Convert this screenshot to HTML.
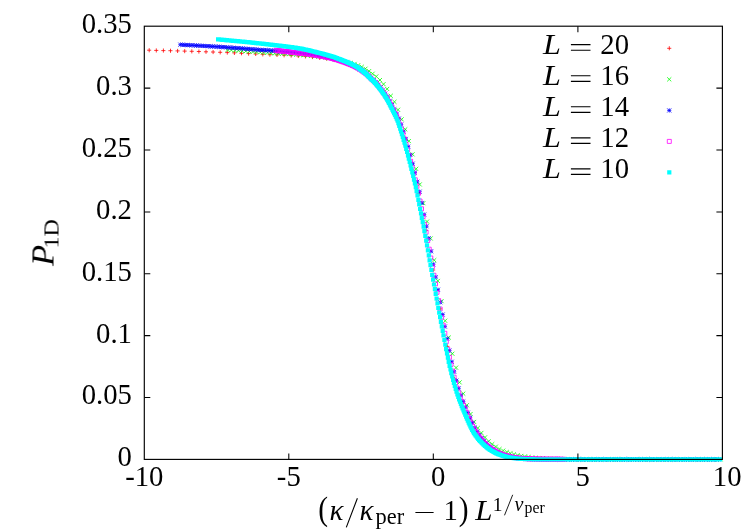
<!DOCTYPE html>
<html><head><meta charset="utf-8"><title>P1D scaling collapse</title>
<style>
html,body{margin:0;padding:0;background:#fff}
body{width:747px;height:531px;overflow:hidden}
svg{display:block}
text{font-family:"Liberation Serif",serif;font-size:28.7px;fill:#000}
.i{font-style:italic}
.m{fill:none;stroke-width:.8}
</style></head><body>
<svg width="747" height="531" viewBox="0 0 747 531">
<rect width="747" height="531" fill="#fff"/>
<path class="m" stroke="#f00" d="M147.1 50.2h4.1M149.2 48.2v4.1M154.2 50.4h4.1M156.3 48.4v4.1M161.3 50.6h4.1M163.4 48.5v4.1M168.4 50.7h4.1M170.5 48.7v4.1M175.5 50.9h4.1M177.6 48.9v4.1M182.6 51.1h4.1M184.7 49.1v4.1M189.7 51.3h4.1M191.8 49.3v4.1M196.8 51.5h4.1M198.9 49.5v4.1M203.9 51.8h4.1M206 49.7v4.1M211 52h4.1M213.1 50v4.1M218.1 52.3h4.1M220.2 50.3v4.1M225.2 52.6h4.1M227.3 50.5v4.1M232.3 52.9h4.1M234.4 50.9v4.1M239.4 53.3h4.1M241.5 51.2v4.1M246.5 53.6h4.1M248.6 51.6v4.1M253.6 54h4.1M255.7 51.9v4.1M260.7 54.3h4.1M262.8 52.3v4.1M267.8 54.7h4.1M269.9 52.6v4.1M274.9 54.9h4.1M277 52.9v4.1M282.1 55.2h4.1M284.1 53.2v4.1M289.1 55.6h4.1M291.2 53.5v4.1M296.2 56h4.1M298.3 53.9v4.1M303.3 56.4h4.1M305.4 54.4v4.1M310.4 57h4.1M312.5 55v4.1M317.5 57.7h4.1M319.6 55.7v4.1M324.6 58.6h4.1M326.7 56.6v4.1M331.7 59.8h4.1M333.8 57.7v4.1M338.8 61.2h4.1M340.9 59.1v4.1M345.9 63.2h4.1M348 61.1v4.1M353 66h4.1M355.1 64v4.1M360.1 70.2h4.1M362.2 68.2v4.1M367.2 76.1h4.1M369.3 74.1v4.1M374.3 83.1h4.1M376.4 81.1v4.1M381.4 91.9h4.1M383.5 89.9v4.1M388.5 103.3h4.1M390.6 101.2v4.1M395.6 117.4h4.1M397.7 115.3v4.1M402.7 138.1h4.1M404.8 136v4.1M409.8 163.7h4.1M411.9 161.7v4.1M416.9 193.9h4.1M419 191.9v4.1M424 230.4h4.1M426.1 228.3v4.1M431.1 270h4.1M433.2 268v4.1M438.2 308.9h4.1M440.3 306.8v4.1M445.3 346.4h4.1M447.4 344.4v4.1M452.4 378.7h4.1M454.5 376.7v4.1M459.5 401.6h4.1M461.6 399.5v4.1M466.6 419.1h4.1M468.7 417v4.1M473.7 433.7h4.1M475.8 431.6v4.1M480.8 442.9h4.1M482.9 440.8v4.1M487.9 449.3h4.1M490 447.2v4.1M495 453.6h4.1M497.1 451.6v4.1M667.2 48.3h4.1M669.3 46.2v4.1"/>
<path class="m" stroke="#0f0" d="M225.6 47.9l4.1 4.1M225.6 52l4.1 -4.1M229.3 48.1l4.1 4.1M229.3 52.2l4.1 -4.1M232.9 48.4l4.1 4.1M232.9 52.5l4.1 -4.1M236.5 48.6l4.1 4.1M236.5 52.7l4.1 -4.1M240.1 48.9l4.1 4.1M240.1 53l4.1 -4.1M243.8 49.1l4.1 4.1M243.8 53.2l4.1 -4.1M247.4 49.4l4.1 4.1M247.4 53.5l4.1 -4.1M251 49.6l4.1 4.1M251 53.7l4.1 -4.1M254.6 49.9l4.1 4.1M254.6 54l4.1 -4.1M258.3 50.2l4.1 4.1M258.3 54.3l4.1 -4.1M261.9 50.5l4.1 4.1M261.9 54.6l4.1 -4.1M265.5 50.7l4.1 4.1M265.5 54.8l4.1 -4.1M269.1 51l4.1 4.1M269.1 55.1l4.1 -4.1M272.8 51.3l4.1 4.1M272.8 55.4l4.1 -4.1M276.4 51.5l4.1 4.1M276.4 55.6l4.1 -4.1M280 51.7l4.1 4.1M280 55.8l4.1 -4.1M283.6 51.9l4.1 4.1M283.6 56l4.1 -4.1M287.3 52.1l4.1 4.1M287.3 56.2l4.1 -4.1M290.9 52.3l4.1 4.1M290.9 56.4l4.1 -4.1M294.5 52.6l4.1 4.1M294.5 56.7l4.1 -4.1M298.1 52.9l4.1 4.1M298.1 57l4.1 -4.1M301.8 53.2l4.1 4.1M301.8 57.3l4.1 -4.1M305.4 53.5l4.1 4.1M305.4 57.6l4.1 -4.1M309 53.8l4.1 4.1M309 57.9l4.1 -4.1M312.6 54.2l4.1 4.1M312.6 58.3l4.1 -4.1M316.2 54.6l4.1 4.1M316.2 58.7l4.1 -4.1M319.9 55l4.1 4.1M319.9 59.1l4.1 -4.1M323.5 55.6l4.1 4.1M323.5 59.7l4.1 -4.1M327.1 56.2l4.1 4.1M327.1 60.3l4.1 -4.1M330.7 56.9l4.1 4.1M330.7 61l4.1 -4.1M334.4 57.6l4.1 4.1M334.4 61.7l4.1 -4.1M338 58.4l4.1 4.1M338 62.5l4.1 -4.1M341.6 59.1l4.1 4.1M341.6 63.2l4.1 -4.1M345.2 59.9l4.1 4.1M345.2 64l4.1 -4.1M348.9 60.8l4.1 4.1M348.9 64.9l4.1 -4.1M352.5 61.9l4.1 4.1M352.5 66l4.1 -4.1M356.1 63.2l4.1 4.1M356.1 67.3l4.1 -4.1M359.7 64.8l4.1 4.1M359.7 68.9l4.1 -4.1M363.4 66.7l4.1 4.1M363.4 70.8l4.1 -4.1M367 69.1l4.1 4.1M367 73.2l4.1 -4.1M370.6 71.7l4.1 4.1M370.6 75.8l4.1 -4.1M374.2 74.4l4.1 4.1M374.2 78.5l4.1 -4.1M377.9 78l4.1 4.1M377.9 82.1l4.1 -4.1M381.5 82.1l4.1 4.1M381.5 86.2l4.1 -4.1M385.1 86.9l4.1 4.1M385.1 91l4.1 -4.1M388.7 93.8l4.1 4.1M388.7 97.9l4.1 -4.1M392.4 99.8l4.1 4.1M392.4 103.9l4.1 -4.1M396 107.7l4.1 4.1M396 111.8l4.1 -4.1M399.6 117.3l4.1 4.1M399.6 121.4l4.1 -4.1M403.2 127.3l4.1 4.1M403.2 131.4l4.1 -4.1M406.8 139l4.1 4.1M406.8 143.1l4.1 -4.1M410.5 152.3l4.1 4.1M410.5 156.4l4.1 -4.1M414.1 166.8l4.1 4.1M414.1 170.9l4.1 -4.1M417.7 182.4l4.1 4.1M417.7 186.5l4.1 -4.1M421.3 201.1l4.1 4.1M421.3 205.2l4.1 -4.1M425 219.5l4.1 4.1M425 223.6l4.1 -4.1M428.6 236.4l4.1 4.1M428.6 240.5l4.1 -4.1M432.2 258.1l4.1 4.1M432.2 262.2l4.1 -4.1M435.8 278.9l4.1 4.1M435.8 283l4.1 -4.1M439.5 299.1l4.1 4.1M439.5 303.2l4.1 -4.1M443.1 318.7l4.1 4.1M443.1 322.8l4.1 -4.1M446.7 335.5l4.1 4.1M446.7 339.6l4.1 -4.1M450.3 351.7l4.1 4.1M450.3 355.8l4.1 -4.1M454 365.6l4.1 4.1M454 369.7l4.1 -4.1M457.6 380.3l4.1 4.1M457.6 384.4l4.1 -4.1M461.2 391.6l4.1 4.1M461.2 395.7l4.1 -4.1M464.8 403.2l4.1 4.1M464.8 407.3l4.1 -4.1M468.5 412l4.1 4.1M468.5 416.1l4.1 -4.1M472.1 419.9l4.1 4.1M472.1 424l4.1 -4.1M475.7 426l4.1 4.1M475.7 430.1l4.1 -4.1M479.3 430.9l4.1 4.1M479.3 435l4.1 -4.1M483 435.3l4.1 4.1M483 439.4l4.1 -4.1M486.6 439.2l4.1 4.1M486.6 443.3l4.1 -4.1M490.2 442.1l4.1 4.1M490.2 446.2l4.1 -4.1M493.8 444.6l4.1 4.1M493.8 448.7l4.1 -4.1M497.4 447l4.1 4.1M497.4 451.1l4.1 -4.1M501.1 448.6l4.1 4.1M501.1 452.7l4.1 -4.1M504.7 450l4.1 4.1M504.7 454.1l4.1 -4.1M508.3 451.2l4.1 4.1M508.3 455.3l4.1 -4.1M511.9 452.3l4.1 4.1M511.9 456.4l4.1 -4.1M515.6 453.2l4.1 4.1M515.6 457.3l4.1 -4.1M519.2 453.9l4.1 4.1M519.2 458l4.1 -4.1M522.8 454.5l4.1 4.1M522.8 458.6l4.1 -4.1M526.4 455l4.1 4.1M526.4 459.1l4.1 -4.1M530.1 455.5l4.1 4.1M530.1 459.6l4.1 -4.1M533.7 455.8l4.1 4.1M533.7 459.9l4.1 -4.1M537.3 456.1l4.1 4.1M537.3 460.2l4.1 -4.1M540.9 456.3l4.1 4.1M540.9 460.4l4.1 -4.1M544.6 456.5l4.1 4.1M544.6 460.6l4.1 -4.1M548.2 456.7l4.1 4.1M548.2 460.8l4.1 -4.1M551.8 456.9l4.1 4.1M551.8 461l4.1 -4.1M555.4 457l4.1 4.1M555.4 461.1l4.1 -4.1M559.1 457.1l4.1 4.1M559.1 461.2l4.1 -4.1M562.7 457.1l4.1 4.1M562.7 461.2l4.1 -4.1M566.3 457.2l4.1 4.1M566.3 461.3l4.1 -4.1M569.9 457.2l4.1 4.1M569.9 461.3l4.1 -4.1M573.6 457.3l4.1 4.1M573.6 461.4l4.1 -4.1M577.2 457.3l4.1 4.1M577.2 461.4l4.1 -4.1M580.8 457.3l4.1 4.1M580.8 461.4l4.1 -4.1M584.4 457.3l4.1 4.1M584.4 461.4l4.1 -4.1M588.1 457.3l4.1 4.1M588.1 461.4l4.1 -4.1M591.7 457.3l4.1 4.1M591.7 461.4l4.1 -4.1M595.3 457.3l4.1 4.1M595.3 461.4l4.1 -4.1M598.9 457.3l4.1 4.1M598.9 461.4l4.1 -4.1M602.5 457.3l4.1 4.1M602.5 461.4l4.1 -4.1M606.2 457.3l4.1 4.1M606.2 461.4l4.1 -4.1M609.8 457.3l4.1 4.1M609.8 461.4l4.1 -4.1M613.4 457.3l4.1 4.1M613.4 461.4l4.1 -4.1M617 457.3l4.1 4.1M617 461.4l4.1 -4.1M620.7 457.3l4.1 4.1M620.7 461.4l4.1 -4.1M624.3 457.3l4.1 4.1M624.3 461.4l4.1 -4.1M627.9 457.3l4.1 4.1M627.9 461.4l4.1 -4.1M631.5 457.3l4.1 4.1M631.5 461.4l4.1 -4.1M635.2 457.3l4.1 4.1M635.2 461.4l4.1 -4.1M638.8 457.3l4.1 4.1M638.8 461.4l4.1 -4.1M642.4 457.3l4.1 4.1M642.4 461.4l4.1 -4.1M646 457.3l4.1 4.1M646 461.4l4.1 -4.1M649.7 457.3l4.1 4.1M649.7 461.4l4.1 -4.1M653.3 457.3l4.1 4.1M653.3 461.4l4.1 -4.1M656.9 457.3l4.1 4.1M656.9 461.4l4.1 -4.1M660.5 457.3l4.1 4.1M660.5 461.4l4.1 -4.1M664.2 457.3l4.1 4.1M664.2 461.4l4.1 -4.1M667.8 457.3l4.1 4.1M667.8 461.4l4.1 -4.1M671.4 457.3l4.1 4.1M671.4 461.4l4.1 -4.1M675 457.3l4.1 4.1M675 461.4l4.1 -4.1M678.7 457.3l4.1 4.1M678.7 461.4l4.1 -4.1M682.3 457.3l4.1 4.1M682.3 461.4l4.1 -4.1M685.9 457.3l4.1 4.1M685.9 461.4l4.1 -4.1M689.5 457.3l4.1 4.1M689.5 461.4l4.1 -4.1M693.1 457.3l4.1 4.1M693.1 461.4l4.1 -4.1M696.8 457.3l4.1 4.1M696.8 461.4l4.1 -4.1M700.4 457.3l4.1 4.1M700.4 461.4l4.1 -4.1M704 457.3l4.1 4.1M704 461.4l4.1 -4.1M707.6 457.3l4.1 4.1M707.6 461.4l4.1 -4.1M711.3 457.3l4.1 4.1M711.3 461.4l4.1 -4.1M714.9 457.3l4.1 4.1M714.9 461.4l4.1 -4.1M718.5 457.3l4.1 4.1M718.5 461.4l4.1 -4.1M667.2 77.3l4.1 4.1M667.2 81.4l4.1 -4.1"/>
<path class="m" stroke="#00f" d="M178.3 44.7h4.1M180.4 42.6v4.1M178.3 42.6l4.1 4.1M178.3 46.7l4.1 -4.1M180.7 44.8h4.1M182.7 42.8v4.1M180.7 42.8l4.1 4.1M180.7 46.9l4.1 -4.1M182.9 44.9h4.1M185 42.9v4.1M182.9 42.9l4.1 4.1M182.9 47l4.1 -4.1M185.2 45h4.1M187.3 43v4.1M185.2 43l4.1 4.1M185.2 47.1l4.1 -4.1M187.5 45.2h4.1M189.6 43.1v4.1M187.5 43.1l4.1 4.1M187.5 47.2l4.1 -4.1M189.8 45.3h4.1M191.9 43.2v4.1M189.8 43.2l4.1 4.1M189.8 47.3l4.1 -4.1M192.2 45.4h4.1M194.2 43.4v4.1M192.2 43.4l4.1 4.1M192.2 47.5l4.1 -4.1M194.4 45.5h4.1M196.5 43.5v4.1M194.4 43.5l4.1 4.1M194.4 47.6l4.1 -4.1M196.8 45.7h4.1M198.8 43.6v4.1M196.8 43.6l4.1 4.1M196.8 47.7l4.1 -4.1M199 45.8h4.1M201.1 43.7v4.1M199 43.7l4.1 4.1M199 47.8l4.1 -4.1M201.3 45.9h4.1M203.4 43.9v4.1M201.3 43.9l4.1 4.1M201.3 48l4.1 -4.1M203.6 46h4.1M205.7 44v4.1M203.6 44l4.1 4.1M203.6 48.1l4.1 -4.1M205.9 46.2h4.1M208 44.1v4.1M205.9 44.1l4.1 4.1M205.9 48.2l4.1 -4.1M208.2 46.3h4.1M210.3 44.3v4.1M208.2 44.3l4.1 4.1M208.2 48.4l4.1 -4.1M210.5 46.5h4.1M212.6 44.4v4.1M210.5 44.4l4.1 4.1M210.5 48.5l4.1 -4.1M212.8 46.6h4.1M214.9 44.5v4.1M212.8 44.5l4.1 4.1M212.8 48.6l4.1 -4.1M215.1 46.7h4.1M217.2 44.7v4.1M215.1 44.7l4.1 4.1M215.1 48.8l4.1 -4.1M217.4 46.9h4.1M219.5 44.8v4.1M217.4 44.8l4.1 4.1M217.4 48.9l4.1 -4.1M219.8 47h4.1M221.8 45v4.1M219.8 45l4.1 4.1M219.8 49.1l4.1 -4.1M222 47.2h4.1M224.1 45.1v4.1M222 45.1l4.1 4.1M222 49.2l4.1 -4.1M224.3 47.3h4.1M226.4 45.3v4.1M224.3 45.3l4.1 4.1M224.3 49.4l4.1 -4.1M226.6 47.5h4.1M228.7 45.5v4.1M226.6 45.5l4.1 4.1M226.6 49.6l4.1 -4.1M228.9 47.7h4.1M231 45.6v4.1M228.9 45.6l4.1 4.1M228.9 49.7l4.1 -4.1M231.2 47.8h4.1M233.3 45.8v4.1M231.2 45.8l4.1 4.1M231.2 49.9l4.1 -4.1M233.5 48h4.1M235.6 45.9v4.1M233.5 45.9l4.1 4.1M233.5 50l4.1 -4.1M235.8 48.1h4.1M237.9 46.1v4.1M235.8 46.1l4.1 4.1M235.8 50.2l4.1 -4.1M238.1 48.3h4.1M240.2 46.3v4.1M238.1 46.3l4.1 4.1M238.1 50.4l4.1 -4.1M240.4 48.5h4.1M242.5 46.4v4.1M240.4 46.4l4.1 4.1M240.4 50.5l4.1 -4.1M242.8 48.7h4.1M244.8 46.6v4.1M242.8 46.6l4.1 4.1M242.8 50.7l4.1 -4.1M245 48.8h4.1M247.1 46.8v4.1M245 46.8l4.1 4.1M245 50.9l4.1 -4.1M247.3 49h4.1M249.4 47v4.1M247.3 47l4.1 4.1M247.3 51.1l4.1 -4.1M249.6 49.2h4.1M251.7 47.2v4.1M249.6 47.2l4.1 4.1M249.6 51.3l4.1 -4.1M251.9 49.4h4.1M254 47.3v4.1M251.9 47.3l4.1 4.1M251.9 51.4l4.1 -4.1M254.2 49.6h4.1M256.3 47.5v4.1M254.2 47.5l4.1 4.1M254.2 51.6l4.1 -4.1M256.6 49.8h4.1M258.6 47.7v4.1M256.6 47.7l4.1 4.1M256.6 51.8l4.1 -4.1M258.8 49.9h4.1M260.9 47.9v4.1M258.8 47.9l4.1 4.1M258.8 52l4.1 -4.1M261.1 50.1h4.1M263.2 48v4.1M261.1 48l4.1 4.1M261.1 52.1l4.1 -4.1M263.4 50.2h4.1M265.5 48.1v4.1M263.4 48.1l4.1 4.1M263.4 52.2l4.1 -4.1M265.8 50.3h4.1M267.8 48.2v4.1M265.8 48.2l4.1 4.1M265.8 52.3l4.1 -4.1M268.1 50.5h4.1M270.1 48.4v4.1M268.1 48.4l4.1 4.1M268.1 52.5l4.1 -4.1M270.3 50.7h4.1M272.4 48.6v4.1M270.3 48.6l4.1 4.1M270.3 52.7l4.1 -4.1M272.6 50.9h4.1M274.7 48.8v4.1M272.6 48.8l4.1 4.1M272.6 52.9l4.1 -4.1M274.9 51.1h4.1M277 49.1v4.1M274.9 49.1l4.1 4.1M274.9 53.2l4.1 -4.1M277.2 51.3h4.1M279.3 49.3v4.1M277.2 49.3l4.1 4.1M277.2 53.4l4.1 -4.1M279.6 51.5h4.1M281.6 49.5v4.1M279.6 49.5l4.1 4.1M279.6 53.6l4.1 -4.1M281.8 51.7h4.1M283.9 49.7v4.1M281.8 49.7l4.1 4.1M281.8 53.8l4.1 -4.1M284.1 51.9h4.1M286.2 49.8v4.1M284.1 49.8l4.1 4.1M284.1 53.9l4.1 -4.1M286.4 52h4.1M288.5 50v4.1M286.4 50l4.1 4.1M286.4 54.1l4.1 -4.1M288.8 52.2h4.1M290.8 50.2v4.1M288.8 50.2l4.1 4.1M288.8 54.3l4.1 -4.1M291.1 52.4h4.1M293.1 50.3v4.1M291.1 50.3l4.1 4.1M291.1 54.4l4.1 -4.1M293.3 52.6h4.1M295.4 50.5v4.1M293.3 50.5l4.1 4.1M293.3 54.6l4.1 -4.1M295.6 52.8h4.1M297.7 50.7v4.1M295.6 50.7l4.1 4.1M295.6 54.8l4.1 -4.1M297.9 53h4.1M300 50.9v4.1M297.9 50.9l4.1 4.1M297.9 55l4.1 -4.1M300.2 53.2h4.1M302.3 51.2v4.1M300.2 51.2l4.1 4.1M300.2 55.3l4.1 -4.1M302.6 53.4h4.1M304.6 51.4v4.1M302.6 51.4l4.1 4.1M302.6 55.5l4.1 -4.1M304.8 53.7h4.1M306.9 51.7v4.1M304.8 51.7l4.1 4.1M304.8 55.8l4.1 -4.1M307.1 54h4.1M309.2 52v4.1M307.1 52l4.1 4.1M307.1 56.1l4.1 -4.1M309.4 54.4h4.1M311.5 52.4v4.1M309.4 52.4l4.1 4.1M309.4 56.5l4.1 -4.1M311.7 54.8h4.1M313.8 52.7v4.1M311.7 52.7l4.1 4.1M311.7 56.8l4.1 -4.1M314.1 55.2h4.1M316.1 53.1v4.1M314.1 53.1l4.1 4.1M314.1 57.2l4.1 -4.1M316.3 55.6h4.1M318.4 53.6v4.1M316.3 53.6l4.1 4.1M316.3 57.7l4.1 -4.1M318.6 56h4.1M320.7 54v4.1M318.6 54l4.1 4.1M318.6 58.1l4.1 -4.1M320.9 56.5h4.1M323 54.5v4.1M320.9 54.5l4.1 4.1M320.9 58.6l4.1 -4.1M323.2 57h4.1M325.3 54.9v4.1M323.2 54.9l4.1 4.1M323.2 59l4.1 -4.1M325.6 57.5h4.1M327.6 55.4v4.1M325.6 55.4l4.1 4.1M325.6 59.5l4.1 -4.1M327.8 58h4.1M329.9 55.9v4.1M327.8 55.9l4.1 4.1M327.8 60l4.1 -4.1M330.1 58.5h4.1M332.2 56.5v4.1M330.1 56.5l4.1 4.1M330.1 60.6l4.1 -4.1M332.4 59.1h4.1M334.5 57.1v4.1M332.4 57.1l4.1 4.1M332.4 61.2l4.1 -4.1M334.7 59.8h4.1M336.8 57.7v4.1M334.7 57.7l4.1 4.1M334.7 61.8l4.1 -4.1M337.1 60.5h4.1M339.1 58.5v4.1M337.1 58.5l4.1 4.1M337.1 62.6l4.1 -4.1M339.3 61.3h4.1M341.4 59.2v4.1M339.3 59.2l4.1 4.1M339.3 63.3l4.1 -4.1M341.6 62.1h4.1M343.7 60.1v4.1M341.6 60.1l4.1 4.1M341.6 64.2l4.1 -4.1M343.9 63h4.1M346 60.9v4.1M343.9 60.9l4.1 4.1M343.9 65l4.1 -4.1M346.2 63.8h4.1M348.3 61.8v4.1M346.2 61.8l4.1 4.1M346.2 65.9l4.1 -4.1M348.6 64.7h4.1M350.6 62.7v4.1M348.6 62.7l4.1 4.1M348.6 66.8l4.1 -4.1M350.8 65.7h4.1M352.9 63.6v4.1M350.8 63.6l4.1 4.1M350.8 67.7l4.1 -4.1M353.1 66.7h4.1M355.2 64.7v4.1M353.1 64.7l4.1 4.1M353.1 68.8l4.1 -4.1M355.4 67.9h4.1M357.5 65.8v4.1M355.4 65.8l4.1 4.1M355.4 69.9l4.1 -4.1M357.7 69.2h4.1M359.8 67.1v4.1M357.7 67.1l4.1 4.1M357.7 71.2l4.1 -4.1M360.1 70.6h4.1M362.1 68.5v4.1M360.1 68.5l4.1 4.1M360.1 72.6l4.1 -4.1M362.3 72.1h4.1M364.4 70.1v4.1M362.3 70.1l4.1 4.1M362.3 74.2l4.1 -4.1M364.6 73.8h4.1M366.7 71.7v4.1M364.6 71.7l4.1 4.1M364.6 75.8l4.1 -4.1M366.9 75.6h4.1M369 73.6v4.1M366.9 73.6l4.1 4.1M366.9 77.7l4.1 -4.1M369.2 77.8h4.1M371.3 75.8v4.1M369.2 75.8l4.1 4.1M369.2 79.9l4.1 -4.1M371.6 80.1h4.1M373.6 78.1v4.1M371.6 78.1l4.1 4.1M371.6 82.2l4.1 -4.1M373.8 82.3h4.1M375.9 80.3v4.1M373.8 80.3l4.1 4.1M373.8 84.4l4.1 -4.1M376.1 84.7h4.1M378.2 82.6v4.1M376.1 82.6l4.1 4.1M376.1 86.7l4.1 -4.1M378.4 87.4h4.1M380.5 85.4v4.1M378.4 85.4l4.1 4.1M378.4 89.5l4.1 -4.1M380.7 90.5h4.1M382.8 88.4v4.1M380.7 88.4l4.1 4.1M380.7 92.5l4.1 -4.1M383.1 93.6h4.1M385.1 91.6v4.1M383.1 91.6l4.1 4.1M383.1 95.7l4.1 -4.1M385.3 97h4.1M387.4 95v4.1M385.3 95l4.1 4.1M385.3 99.1l4.1 -4.1M387.6 100.8h4.1M389.7 98.8v4.1M387.6 98.8l4.1 4.1M387.6 102.9l4.1 -4.1M389.9 105h4.1M392 102.9v4.1M389.9 102.9l4.1 4.1M389.9 107l4.1 -4.1M392.2 109.4h4.1M394.3 107.3v4.1M392.2 107.3l4.1 4.1M392.2 111.4l4.1 -4.1M394.6 113.8h4.1M396.6 111.8v4.1M394.6 111.8l4.1 4.1M394.6 115.9l4.1 -4.1M396.8 118.5h4.1M398.9 116.5v4.1M396.8 116.5l4.1 4.1M396.8 120.6l4.1 -4.1M399.1 124.6h4.1M401.2 122.5v4.1M399.1 122.5l4.1 4.1M399.1 126.6l4.1 -4.1M401.4 131.7h4.1M403.5 129.7v4.1M401.4 129.7l4.1 4.1M401.4 133.8l4.1 -4.1M403.7 138.9h4.1M405.8 136.9v4.1M403.7 136.9l4.1 4.1M403.7 141l4.1 -4.1M406.1 146.6h4.1M408.1 144.6v4.1M406.1 144.6l4.1 4.1M406.1 148.7l4.1 -4.1M408.3 155h4.1M410.4 152.9v4.1M408.3 152.9l4.1 4.1M408.3 157l4.1 -4.1M410.6 163.7h4.1M412.7 161.6v4.1M410.6 161.6l4.1 4.1M410.6 165.7l4.1 -4.1M412.9 172.6h4.1M415 170.6v4.1M412.9 170.6l4.1 4.1M412.9 174.7l4.1 -4.1M415.2 181.8h4.1M417.3 179.7v4.1M415.2 179.7l4.1 4.1M415.2 183.8l4.1 -4.1M417.6 191.7h4.1M419.6 189.6v4.1M417.6 189.6l4.1 4.1M417.6 193.7l4.1 -4.1M419.8 203h4.1M421.9 200.9v4.1M419.8 200.9l4.1 4.1M419.8 205l4.1 -4.1M422.1 214.6h4.1M424.2 212.5v4.1M422.1 212.5l4.1 4.1M422.1 216.6l4.1 -4.1M424.4 226.2h4.1M426.5 224.2v4.1M424.4 224.2l4.1 4.1M424.4 228.3l4.1 -4.1M426.7 238.3h4.1M428.8 236.3v4.1M426.7 236.3l4.1 4.1M426.7 240.4l4.1 -4.1M429.1 251.2h4.1M431.1 249.2v4.1M429.1 249.2l4.1 4.1M429.1 253.3l4.1 -4.1M431.3 264.3h4.1M433.4 262.3v4.1M431.3 262.3l4.1 4.1M431.3 266.4l4.1 -4.1M433.6 277.1h4.1M435.7 275.1v4.1M433.6 275.1l4.1 4.1M433.6 279.2l4.1 -4.1M435.9 289.8h4.1M438 287.7v4.1M435.9 287.7l4.1 4.1M435.9 291.8l4.1 -4.1M438.2 302.2h4.1M440.3 300.2v4.1M438.2 300.2l4.1 4.1M438.2 304.3l4.1 -4.1M440.6 314.5h4.1M442.6 312.5v4.1M440.6 312.5l4.1 4.1M440.6 316.6l4.1 -4.1M442.8 326.6h4.1M444.9 324.5v4.1M442.8 324.5l4.1 4.1M442.8 328.6l4.1 -4.1M445.1 338.7h4.1M447.2 336.6v4.1M445.1 336.6l4.1 4.1M445.1 340.7l4.1 -4.1M447.4 350.6h4.1M449.5 348.6v4.1M447.4 348.6l4.1 4.1M447.4 352.7l4.1 -4.1M449.7 361.8h4.1M451.8 359.7v4.1M449.7 359.7l4.1 4.1M449.7 363.8l4.1 -4.1M452.1 371.8h4.1M454.1 369.7v4.1M452.1 369.7l4.1 4.1M452.1 373.8l4.1 -4.1M454.3 380.6h4.1M456.4 378.6v4.1M454.3 378.6l4.1 4.1M454.3 382.7l4.1 -4.1M456.6 388.4h4.1M458.7 386.4v4.1M456.6 386.4l4.1 4.1M456.6 390.5l4.1 -4.1M458.9 395.4h4.1M461 393.3v4.1M458.9 393.3l4.1 4.1M458.9 397.4l4.1 -4.1M461.2 401.6h4.1M463.3 399.5v4.1M461.2 399.5l4.1 4.1M461.2 403.6l4.1 -4.1M463.6 407.2h4.1M465.6 405.2v4.1M463.6 405.2l4.1 4.1M463.6 409.3l4.1 -4.1M465.8 412.6h4.1M467.9 410.6v4.1M465.8 410.6l4.1 4.1M465.8 414.7l4.1 -4.1M468.1 417.7h4.1M470.2 415.7v4.1M468.1 415.7l4.1 4.1M468.1 419.8l4.1 -4.1M470.4 422.7h4.1M472.5 420.7v4.1M470.4 420.7l4.1 4.1M470.4 424.8l4.1 -4.1M472.7 427.6h4.1M474.8 425.6v4.1M472.7 425.6l4.1 4.1M472.7 429.7l4.1 -4.1M475.1 431.6h4.1M477.1 429.6v4.1M475.1 429.6l4.1 4.1M475.1 433.7l4.1 -4.1M477.3 435.1h4.1M479.4 433v4.1M477.3 433l4.1 4.1M477.3 437.1l4.1 -4.1M479.6 438.1h4.1M481.7 436.1v4.1M479.6 436.1l4.1 4.1M479.6 440.2l4.1 -4.1M481.9 440.9h4.1M484 438.8v4.1M481.9 438.8l4.1 4.1M481.9 442.9l4.1 -4.1M484.2 443.3h4.1M486.3 441.3v4.1M484.2 441.3l4.1 4.1M484.2 445.4l4.1 -4.1M486.6 445.5h4.1M488.6 443.5v4.1M486.6 443.5l4.1 4.1M486.6 447.6l4.1 -4.1M488.8 447.4h4.1M490.9 445.4v4.1M488.8 445.4l4.1 4.1M488.8 449.5l4.1 -4.1M491.1 449.2h4.1M493.2 447.1v4.1M491.1 447.1l4.1 4.1M491.1 451.2l4.1 -4.1M493.4 450.6h4.1M495.5 448.6v4.1M493.4 448.6l4.1 4.1M493.4 452.7l4.1 -4.1M495.7 451.9h4.1M497.8 449.9v4.1M495.7 449.9l4.1 4.1M495.7 454l4.1 -4.1M498.1 453.1h4.1M500.1 451.1v4.1M498.1 451.1l4.1 4.1M498.1 455.2l4.1 -4.1M500.3 454.2h4.1M502.4 452.1v4.1M500.3 452.1l4.1 4.1M500.3 456.2l4.1 -4.1M502.6 455h4.1M504.7 453v4.1M502.6 453l4.1 4.1M502.6 457.1l4.1 -4.1M504.9 455.8h4.1M507 453.7v4.1M504.9 453.7l4.1 4.1M504.9 457.8l4.1 -4.1M507.2 456.4h4.1M509.3 454.4v4.1M507.2 454.4l4.1 4.1M507.2 458.5l4.1 -4.1M509.6 457h4.1M511.6 454.9v4.1M509.6 454.9l4.1 4.1M509.6 459l4.1 -4.1M511.8 457.4h4.1M513.9 455.4v4.1M511.8 455.4l4.1 4.1M511.8 459.5l4.1 -4.1M514.1 457.8h4.1M516.2 455.8v4.1M514.1 455.8l4.1 4.1M514.1 459.9l4.1 -4.1M516.5 458.2h4.1M518.5 456.1v4.1M516.5 456.1l4.1 4.1M516.5 460.2l4.1 -4.1M518.8 458.5h4.1M520.8 456.4v4.1M518.8 456.4l4.1 4.1M518.8 460.5l4.1 -4.1M521.1 458.7h4.1M523.1 456.6v4.1M521.1 456.6l4.1 4.1M521.1 460.7l4.1 -4.1M523.4 458.8h4.1M525.4 456.8v4.1M523.4 456.8l4.1 4.1M523.4 460.9l4.1 -4.1M525.6 459h4.1M527.7 456.9v4.1M525.6 456.9l4.1 4.1M525.6 461l4.1 -4.1M528 459.1h4.1M530 457v4.1M528 457l4.1 4.1M528 461.1l4.1 -4.1M530.2 459.2h4.1M532.3 457.1v4.1M530.2 457.1l4.1 4.1M530.2 461.2l4.1 -4.1M532.6 459.2h4.1M534.6 457.2v4.1M532.6 457.2l4.1 4.1M532.6 461.3l4.1 -4.1M534.9 459.2h4.1M536.9 457.2v4.1M534.9 457.2l4.1 4.1M534.9 461.3l4.1 -4.1M537.1 459.3h4.1M539.2 457.2v4.1M537.1 457.2l4.1 4.1M537.1 461.3l4.1 -4.1M539.5 459.3h4.1M541.5 457.3v4.1M539.5 457.3l4.1 4.1M539.5 461.4l4.1 -4.1M541.8 459.3h4.1M543.8 457.3v4.1M541.8 457.3l4.1 4.1M541.8 461.4l4.1 -4.1M544.1 459.4h4.1M546.1 457.3v4.1M544.1 457.3l4.1 4.1M544.1 461.4l4.1 -4.1M546.4 459.4h4.1M548.4 457.3v4.1M546.4 457.3l4.1 4.1M546.4 461.4l4.1 -4.1M548.6 459.4h4.1M550.7 457.3v4.1M548.6 457.3l4.1 4.1M548.6 461.4l4.1 -4.1M551 459.4h4.1M553 457.3v4.1M551 457.3l4.1 4.1M551 461.4l4.1 -4.1M553.2 459.4h4.1M555.3 457.3v4.1M553.2 457.3l4.1 4.1M553.2 461.4l4.1 -4.1M555.6 459.4h4.1M557.6 457.3v4.1M555.6 457.3l4.1 4.1M555.6 461.4l4.1 -4.1M557.9 459.4h4.1M559.9 457.3v4.1M557.9 457.3l4.1 4.1M557.9 461.4l4.1 -4.1M560.1 459.4h4.1M562.2 457.3v4.1M560.1 457.3l4.1 4.1M560.1 461.4l4.1 -4.1M562.5 459.4h4.1M564.5 457.3v4.1M562.5 457.3l4.1 4.1M562.5 461.4l4.1 -4.1M564.8 459.4h4.1M566.8 457.3v4.1M564.8 457.3l4.1 4.1M564.8 461.4l4.1 -4.1M567.1 459.4h4.1M569.1 457.3v4.1M567.1 457.3l4.1 4.1M567.1 461.4l4.1 -4.1M569.4 459.4h4.1M571.4 457.3v4.1M569.4 457.3l4.1 4.1M569.4 461.4l4.1 -4.1M571.6 459.4h4.1M573.7 457.3v4.1M571.6 457.3l4.1 4.1M571.6 461.4l4.1 -4.1M574 459.4h4.1M576 457.3v4.1M574 457.3l4.1 4.1M574 461.4l4.1 -4.1M576.2 459.4h4.1M578.3 457.3v4.1M576.2 457.3l4.1 4.1M576.2 461.4l4.1 -4.1M578.6 459.4h4.1M580.6 457.3v4.1M578.6 457.3l4.1 4.1M578.6 461.4l4.1 -4.1M580.9 459.4h4.1M582.9 457.3v4.1M580.9 457.3l4.1 4.1M580.9 461.4l4.1 -4.1M583.1 459.4h4.1M585.2 457.3v4.1M583.1 457.3l4.1 4.1M583.1 461.4l4.1 -4.1M585.5 459.4h4.1M587.5 457.3v4.1M585.5 457.3l4.1 4.1M585.5 461.4l4.1 -4.1M587.8 459.4h4.1M589.8 457.3v4.1M587.8 457.3l4.1 4.1M587.8 461.4l4.1 -4.1M590.1 459.4h4.1M592.1 457.3v4.1M590.1 457.3l4.1 4.1M590.1 461.4l4.1 -4.1M592.4 459.4h4.1M594.4 457.3v4.1M592.4 457.3l4.1 4.1M592.4 461.4l4.1 -4.1M594.6 459.4h4.1M596.7 457.3v4.1M594.6 457.3l4.1 4.1M594.6 461.4l4.1 -4.1M597 459.4h4.1M599 457.3v4.1M597 457.3l4.1 4.1M597 461.4l4.1 -4.1M599.2 459.4h4.1M601.3 457.3v4.1M599.2 457.3l4.1 4.1M599.2 461.4l4.1 -4.1M601.6 459.4h4.1M603.6 457.3v4.1M601.6 457.3l4.1 4.1M601.6 461.4l4.1 -4.1M603.9 459.4h4.1M605.9 457.3v4.1M603.9 457.3l4.1 4.1M603.9 461.4l4.1 -4.1M606.1 459.4h4.1M608.2 457.3v4.1M606.1 457.3l4.1 4.1M606.1 461.4l4.1 -4.1M608.5 459.4h4.1M610.5 457.3v4.1M608.5 457.3l4.1 4.1M608.5 461.4l4.1 -4.1M610.8 459.4h4.1M612.8 457.3v4.1M610.8 457.3l4.1 4.1M610.8 461.4l4.1 -4.1M613.1 459.4h4.1M615.1 457.3v4.1M613.1 457.3l4.1 4.1M613.1 461.4l4.1 -4.1M615.4 459.4h4.1M617.4 457.3v4.1M615.4 457.3l4.1 4.1M615.4 461.4l4.1 -4.1M617.6 459.4h4.1M619.7 457.3v4.1M617.6 457.3l4.1 4.1M617.6 461.4l4.1 -4.1M620 459.4h4.1M622 457.3v4.1M620 457.3l4.1 4.1M620 461.4l4.1 -4.1M622.2 459.4h4.1M624.3 457.3v4.1M622.2 457.3l4.1 4.1M622.2 461.4l4.1 -4.1M624.6 459.4h4.1M626.6 457.3v4.1M624.6 457.3l4.1 4.1M624.6 461.4l4.1 -4.1M626.9 459.4h4.1M628.9 457.3v4.1M626.9 457.3l4.1 4.1M626.9 461.4l4.1 -4.1M629.1 459.4h4.1M631.2 457.3v4.1M629.1 457.3l4.1 4.1M629.1 461.4l4.1 -4.1M631.5 459.4h4.1M633.5 457.3v4.1M631.5 457.3l4.1 4.1M631.5 461.4l4.1 -4.1M633.8 459.4h4.1M635.8 457.3v4.1M633.8 457.3l4.1 4.1M633.8 461.4l4.1 -4.1M636.1 459.4h4.1M638.1 457.3v4.1M636.1 457.3l4.1 4.1M636.1 461.4l4.1 -4.1M638.4 459.4h4.1M640.4 457.3v4.1M638.4 457.3l4.1 4.1M638.4 461.4l4.1 -4.1M640.6 459.4h4.1M642.7 457.3v4.1M640.6 457.3l4.1 4.1M640.6 461.4l4.1 -4.1M643 459.4h4.1M645 457.3v4.1M643 457.3l4.1 4.1M643 461.4l4.1 -4.1M645.2 459.4h4.1M647.3 457.3v4.1M645.2 457.3l4.1 4.1M645.2 461.4l4.1 -4.1M647.6 459.4h4.1M649.6 457.3v4.1M647.6 457.3l4.1 4.1M647.6 461.4l4.1 -4.1M649.9 459.4h4.1M651.9 457.3v4.1M649.9 457.3l4.1 4.1M649.9 461.4l4.1 -4.1M652.1 459.4h4.1M654.2 457.3v4.1M652.1 457.3l4.1 4.1M652.1 461.4l4.1 -4.1M654.5 459.4h4.1M656.5 457.3v4.1M654.5 457.3l4.1 4.1M654.5 461.4l4.1 -4.1M656.8 459.4h4.1M658.8 457.3v4.1M656.8 457.3l4.1 4.1M656.8 461.4l4.1 -4.1M659.1 459.4h4.1M661.1 457.3v4.1M659.1 457.3l4.1 4.1M659.1 461.4l4.1 -4.1M661.4 459.4h4.1M663.4 457.3v4.1M661.4 457.3l4.1 4.1M661.4 461.4l4.1 -4.1M663.6 459.4h4.1M665.7 457.3v4.1M663.6 457.3l4.1 4.1M663.6 461.4l4.1 -4.1M666 459.4h4.1M668 457.3v4.1M666 457.3l4.1 4.1M666 461.4l4.1 -4.1M668.2 459.4h4.1M670.3 457.3v4.1M668.2 457.3l4.1 4.1M668.2 461.4l4.1 -4.1M670.6 459.4h4.1M672.6 457.3v4.1M670.6 457.3l4.1 4.1M670.6 461.4l4.1 -4.1M672.9 459.4h4.1M674.9 457.3v4.1M672.9 457.3l4.1 4.1M672.9 461.4l4.1 -4.1M675.1 459.4h4.1M677.2 457.3v4.1M675.1 457.3l4.1 4.1M675.1 461.4l4.1 -4.1M677.5 459.4h4.1M679.5 457.3v4.1M677.5 457.3l4.1 4.1M677.5 461.4l4.1 -4.1M679.8 459.4h4.1M681.8 457.3v4.1M679.8 457.3l4.1 4.1M679.8 461.4l4.1 -4.1M682.1 459.4h4.1M684.1 457.3v4.1M682.1 457.3l4.1 4.1M682.1 461.4l4.1 -4.1M684.4 459.4h4.1M686.4 457.3v4.1M684.4 457.3l4.1 4.1M684.4 461.4l4.1 -4.1M686.6 459.4h4.1M688.7 457.3v4.1M686.6 457.3l4.1 4.1M686.6 461.4l4.1 -4.1M689 459.4h4.1M691 457.3v4.1M689 457.3l4.1 4.1M689 461.4l4.1 -4.1M691.2 459.4h4.1M693.3 457.3v4.1M691.2 457.3l4.1 4.1M691.2 461.4l4.1 -4.1M693.5 459.4h4.1M695.6 457.3v4.1M693.5 457.3l4.1 4.1M693.5 461.4l4.1 -4.1M695.9 459.4h4.1M697.9 457.3v4.1M695.9 457.3l4.1 4.1M695.9 461.4l4.1 -4.1M698.1 459.4h4.1M700.2 457.3v4.1M698.1 457.3l4.1 4.1M698.1 461.4l4.1 -4.1M700.4 459.4h4.1M702.5 457.3v4.1M700.4 457.3l4.1 4.1M700.4 461.4l4.1 -4.1M702.8 459.4h4.1M704.8 457.3v4.1M702.8 457.3l4.1 4.1M702.8 461.4l4.1 -4.1M705 459.4h4.1M707.1 457.3v4.1M705 457.3l4.1 4.1M705 461.4l4.1 -4.1M707.4 459.4h4.1M709.4 457.3v4.1M707.4 457.3l4.1 4.1M707.4 461.4l4.1 -4.1M709.6 459.4h4.1M711.7 457.3v4.1M709.6 457.3l4.1 4.1M709.6 461.4l4.1 -4.1M711.9 459.4h4.1M714 457.3v4.1M711.9 457.3l4.1 4.1M711.9 461.4l4.1 -4.1M714.2 459.4h4.1M716.3 457.3v4.1M714.2 457.3l4.1 4.1M714.2 461.4l4.1 -4.1M716.5 459.4h4.1M718.6 457.3v4.1M716.5 457.3l4.1 4.1M716.5 461.4l4.1 -4.1M667.2 110.4h4.1M669.3 108.4v4.1M667.2 108.4l4.1 4.1M667.2 112.5l4.1 -4.1"/>
<path class="m" stroke="#f0f" stroke-width="1" d="M273.8 48.3h4v4h-4zM275.4 48.5h4v4h-4zM276.9 48.7h4v4h-4zM278.4 48.9h4v4h-4zM280 49h4v4h-4zM281.6 49.2h4v4h-4zM283.1 49.4h4v4h-4zM284.7 49.6h4v4h-4zM286.2 49.7h4v4h-4zM287.8 49.9h4v4h-4zM289.3 50.1h4v4h-4zM290.9 50.3h4v4h-4zM292.4 50.5h4v4h-4zM293.9 50.7h4v4h-4zM295.5 50.9h4v4h-4zM297.1 51h4v4h-4zM298.6 51.2h4v4h-4zM300.2 51.4h4v4h-4zM301.7 51.5h4v4h-4zM303.2 51.7h4v4h-4zM304.8 51.9h4v4h-4zM306.4 52.1h4v4h-4zM307.9 52.3h4v4h-4zM309.4 52.5h4v4h-4zM311 52.8h4v4h-4zM312.6 53h4v4h-4zM314.1 53.3h4v4h-4zM315.7 53.6h4v4h-4zM317.2 53.8h4v4h-4zM318.8 54.1h4v4h-4zM320.3 54.4h4v4h-4zM321.9 54.7h4v4h-4zM323.4 55h4v4h-4zM324.9 55.3h4v4h-4zM326.5 55.6h4v4h-4zM328.1 55.9h4v4h-4zM329.6 56.3h4v4h-4zM331.2 56.7h4v4h-4zM332.7 57.1h4v4h-4zM334.2 57.6h4v4h-4zM335.8 58.1h4v4h-4zM337.4 58.6h4v4h-4zM338.9 59.1h4v4h-4zM340.5 59.6h4v4h-4zM342 60.2h4v4h-4zM343.6 60.8h4v4h-4zM345.1 61.4h4v4h-4zM346.7 62h4v4h-4zM348.2 62.6h4v4h-4zM349.8 63.2h4v4h-4zM351.3 63.9h4v4h-4zM352.9 64.7h4v4h-4zM354.4 65.5h4v4h-4zM356 66.3h4v4h-4zM357.5 67.3h4v4h-4zM359.1 68.2h4v4h-4zM360.6 69.3h4v4h-4zM362.2 70.4h4v4h-4zM363.7 71.6h4v4h-4zM365.2 72.8h4v4h-4zM366.8 74.3h4v4h-4zM368.4 75.9h4v4h-4zM369.9 77.4h4v4h-4zM371.5 78.9h4v4h-4zM373 80.4h4v4h-4zM374.6 82h4v4h-4zM376.1 83.7h4v4h-4zM377.7 85.7h4v4h-4zM379.2 87.7h4v4h-4zM380.8 89.8h4v4h-4zM382.3 92h4v4h-4zM383.9 94.3h4v4h-4zM385.4 96.8h4v4h-4zM387 99.5h4v4h-4zM388.5 102.3h4v4h-4zM390.1 105.3h4v4h-4zM391.6 108.3h4v4h-4zM393.2 111.4h4v4h-4zM394.7 114.5h4v4h-4zM396.2 118h4v4h-4zM397.8 122.3h4v4h-4zM399.4 127.1h4v4h-4zM400.9 132h4v4h-4zM402.5 137h4v4h-4zM404 142.1h4v4h-4zM405.6 147.6h4v4h-4zM407.1 153.4h4v4h-4zM408.6 159.3h4v4h-4zM410.2 165.4h4v4h-4zM411.8 171.6h4v4h-4zM413.3 177.8h4v4h-4zM414.9 184.3h4v4h-4zM416.4 191.3h4v4h-4zM418 199h4v4h-4zM419.5 206.8h4v4h-4zM421.1 214.5h4v4h-4zM422.6 222.3h4v4h-4zM424.1 230.2h4v4h-4zM425.7 238.5h4v4h-4zM427.2 247.2h4v4h-4zM428.8 256h4v4h-4zM430.4 264.7h4v4h-4zM431.9 273.3h4v4h-4zM433.5 281.8h4v4h-4zM435 290.3h4v4h-4zM436.6 298.6h4v4h-4zM438.1 307h4v4h-4zM439.6 315.2h4v4h-4zM441.2 323.2h4v4h-4zM442.8 331.3h4v4h-4zM444.3 339.6h4v4h-4zM445.9 347.6h4v4h-4zM447.4 355.2h4v4h-4zM449 362.4h4v4h-4zM450.5 369.1h4v4h-4zM452.1 375.2h4v4h-4zM453.6 380.8h4v4h-4zM455.1 386h4v4h-4zM456.7 390.9h4v4h-4zM458.2 395.3h4v4h-4zM459.8 399.4h4v4h-4zM461.4 403.3h4v4h-4zM462.9 407h4v4h-4zM464.5 410.6h4v4h-4zM466 414.1h4v4h-4zM467.6 417.5h4v4h-4zM469.1 420.9h4v4h-4zM470.6 424.2h4v4h-4zM472.2 427.2h4v4h-4zM473.8 429.8h4v4h-4zM475.3 432.1h4v4h-4zM476.9 434.3h4v4h-4zM478.4 436.3h4v4h-4zM480 438.1h4v4h-4zM481.5 439.9h4v4h-4zM483.1 441.5h4v4h-4zM484.6 443h4v4h-4zM486.1 444.3h4v4h-4zM487.7 445.6h4v4h-4zM489.2 446.7h4v4h-4zM490.8 447.8h4v4h-4zM492.4 448.7h4v4h-4zM493.9 449.6h4v4h-4zM495.5 450.3h4v4h-4zM497 451.1h4v4h-4zM498.6 451.8h4v4h-4zM500.1 452.4h4v4h-4zM501.6 452.9h4v4h-4zM503.2 453.4h4v4h-4zM504.8 453.8h4v4h-4zM506.3 454.2h4v4h-4zM507.9 454.6h4v4h-4zM509.4 454.9h4v4h-4zM511 455.2h4v4h-4zM512.5 455.5h4v4h-4zM514 455.7h4v4h-4zM515.6 456h4v4h-4zM517.1 456.1h4v4h-4zM518.7 456.3h4v4h-4zM520.2 456.4h4v4h-4zM521.8 456.5h4v4h-4zM523.4 456.6h4v4h-4zM524.9 456.7h4v4h-4zM526.5 456.8h4v4h-4zM528 456.8h4v4h-4zM529.5 456.9h4v4h-4zM531.1 456.9h4v4h-4zM532.7 456.9h4v4h-4zM534.2 457h4v4h-4zM535.8 457h4v4h-4zM537.3 457h4v4h-4zM538.9 457.1h4v4h-4zM540.4 457.1h4v4h-4zM542 457.1h4v4h-4zM543.5 457.1h4v4h-4zM545 457.2h4v4h-4zM546.6 457.2h4v4h-4zM548.2 457.2h4v4h-4zM549.7 457.2h4v4h-4zM551.2 457.2h4v4h-4zM552.8 457.2h4v4h-4zM554.4 457.2h4v4h-4zM555.9 457.2h4v4h-4zM557.5 457.2h4v4h-4zM559 457.3h4v4h-4zM560.5 457.3h4v4h-4zM562.1 457.3h4v4h-4zM667.3 139.4h4v4h-4z"/>
<path fill="#0ff" d="M216 37.2h4.2v4.2h-4.2zM216.9 37.3h4.2v4.2h-4.2zM217.7 37.4h4.2v4.2h-4.2zM218.6 37.5h4.2v4.2h-4.2zM219.5 37.6h4.2v4.2h-4.2zM220.3 37.7h4.2v4.2h-4.2zM221.2 37.7h4.2v4.2h-4.2zM222.1 37.8h4.2v4.2h-4.2zM222.9 37.9h4.2v4.2h-4.2zM223.8 38h4.2v4.2h-4.2zM224.7 38.1h4.2v4.2h-4.2zM225.5 38.2h4.2v4.2h-4.2zM226.4 38.2h4.2v4.2h-4.2zM227.3 38.3h4.2v4.2h-4.2zM228.1 38.4h4.2v4.2h-4.2zM229 38.5h4.2v4.2h-4.2zM229.9 38.6h4.2v4.2h-4.2zM230.7 38.7h4.2v4.2h-4.2zM231.6 38.7h4.2v4.2h-4.2zM232.5 38.8h4.2v4.2h-4.2zM233.3 38.9h4.2v4.2h-4.2zM234.2 39h4.2v4.2h-4.2zM235.1 39.1h4.2v4.2h-4.2zM235.9 39.1h4.2v4.2h-4.2zM236.8 39.2h4.2v4.2h-4.2zM237.7 39.3h4.2v4.2h-4.2zM238.5 39.4h4.2v4.2h-4.2zM239.4 39.5h4.2v4.2h-4.2zM240.3 39.5h4.2v4.2h-4.2zM241.1 39.6h4.2v4.2h-4.2zM242 39.7h4.2v4.2h-4.2zM242.9 39.8h4.2v4.2h-4.2zM243.7 39.9h4.2v4.2h-4.2zM244.6 40h4.2v4.2h-4.2zM245.5 40.1h4.2v4.2h-4.2zM246.3 40.1h4.2v4.2h-4.2zM247.2 40.2h4.2v4.2h-4.2zM248.1 40.3h4.2v4.2h-4.2zM248.9 40.4h4.2v4.2h-4.2zM249.8 40.5h4.2v4.2h-4.2zM250.7 40.6h4.2v4.2h-4.2zM251.5 40.7h4.2v4.2h-4.2zM252.4 40.8h4.2v4.2h-4.2zM253.3 40.9h4.2v4.2h-4.2zM254.1 41h4.2v4.2h-4.2zM255 41.1h4.2v4.2h-4.2zM255.9 41.2h4.2v4.2h-4.2zM256.7 41.2h4.2v4.2h-4.2zM257.6 41.3h4.2v4.2h-4.2zM258.5 41.4h4.2v4.2h-4.2zM259.3 41.5h4.2v4.2h-4.2zM260.2 41.6h4.2v4.2h-4.2zM261.1 41.7h4.2v4.2h-4.2zM262 41.8h4.2v4.2h-4.2zM262.8 41.9h4.2v4.2h-4.2zM263.7 42h4.2v4.2h-4.2zM264.6 42.1h4.2v4.2h-4.2zM265.4 42.2h4.2v4.2h-4.2zM266.3 42.3h4.2v4.2h-4.2zM267.2 42.4h4.2v4.2h-4.2zM268 42.5h4.2v4.2h-4.2zM268.9 42.6h4.2v4.2h-4.2zM269.8 42.7h4.2v4.2h-4.2zM270.6 42.8h4.2v4.2h-4.2zM271.5 42.9h4.2v4.2h-4.2zM272.4 43h4.2v4.2h-4.2zM273.2 43.1h4.2v4.2h-4.2zM274.1 43.2h4.2v4.2h-4.2zM275 43.3h4.2v4.2h-4.2zM275.8 43.4h4.2v4.2h-4.2zM276.7 43.5h4.2v4.2h-4.2zM277.6 43.6h4.2v4.2h-4.2zM278.4 43.7h4.2v4.2h-4.2zM279.3 43.8h4.2v4.2h-4.2zM280.2 43.9h4.2v4.2h-4.2zM281 44h4.2v4.2h-4.2zM281.9 44.1h4.2v4.2h-4.2zM282.8 44.2h4.2v4.2h-4.2zM283.6 44.3h4.2v4.2h-4.2zM284.5 44.5h4.2v4.2h-4.2zM285.4 44.6h4.2v4.2h-4.2zM286.2 44.7h4.2v4.2h-4.2zM287.1 44.8h4.2v4.2h-4.2zM288 44.9h4.2v4.2h-4.2zM288.8 45h4.2v4.2h-4.2zM289.7 45.1h4.2v4.2h-4.2zM290.6 45.3h4.2v4.2h-4.2zM291.4 45.4h4.2v4.2h-4.2zM292.3 45.5h4.2v4.2h-4.2zM293.2 45.6h4.2v4.2h-4.2zM294 45.8h4.2v4.2h-4.2zM294.9 45.9h4.2v4.2h-4.2zM295.8 46h4.2v4.2h-4.2zM296.6 46.2h4.2v4.2h-4.2zM297.5 46.3h4.2v4.2h-4.2zM298.4 46.5h4.2v4.2h-4.2zM299.2 46.6h4.2v4.2h-4.2zM300.1 46.8h4.2v4.2h-4.2zM301 47h4.2v4.2h-4.2zM301.8 47.2h4.2v4.2h-4.2zM302.7 47.4h4.2v4.2h-4.2zM303.6 47.5h4.2v4.2h-4.2zM304.4 47.7h4.2v4.2h-4.2zM305.3 47.9h4.2v4.2h-4.2zM306.2 48.1h4.2v4.2h-4.2zM307 48.3h4.2v4.2h-4.2zM307.9 48.5h4.2v4.2h-4.2zM308.8 48.7h4.2v4.2h-4.2zM309.6 48.9h4.2v4.2h-4.2zM310.5 49.2h4.2v4.2h-4.2zM311.4 49.4h4.2v4.2h-4.2zM312.2 49.6h4.2v4.2h-4.2zM313.1 49.8h4.2v4.2h-4.2zM314 50h4.2v4.2h-4.2zM314.8 50.2h4.2v4.2h-4.2zM315.7 50.5h4.2v4.2h-4.2zM316.6 50.7h4.2v4.2h-4.2zM317.4 50.9h4.2v4.2h-4.2zM318.3 51.1h4.2v4.2h-4.2zM319.2 51.4h4.2v4.2h-4.2zM320 51.6h4.2v4.2h-4.2zM320.9 51.8h4.2v4.2h-4.2zM321.8 52.1h4.2v4.2h-4.2zM322.6 52.3h4.2v4.2h-4.2zM323.5 52.5h4.2v4.2h-4.2zM324.4 52.8h4.2v4.2h-4.2zM325.2 53h4.2v4.2h-4.2zM326.1 53.2h4.2v4.2h-4.2zM327 53.5h4.2v4.2h-4.2zM327.8 53.7h4.2v4.2h-4.2zM328.7 54h4.2v4.2h-4.2zM329.6 54.3h4.2v4.2h-4.2zM330.4 54.5h4.2v4.2h-4.2zM331.3 54.8h4.2v4.2h-4.2zM332.2 55.1h4.2v4.2h-4.2zM333 55.4h4.2v4.2h-4.2zM333.9 55.7h4.2v4.2h-4.2zM334.8 56h4.2v4.2h-4.2zM335.6 56.4h4.2v4.2h-4.2zM336.5 56.7h4.2v4.2h-4.2zM337.4 57h4.2v4.2h-4.2zM338.2 57.3h4.2v4.2h-4.2zM339.1 57.7h4.2v4.2h-4.2zM340 58h4.2v4.2h-4.2zM340.8 58.4h4.2v4.2h-4.2zM341.7 58.7h4.2v4.2h-4.2zM342.6 59h4.2v4.2h-4.2zM343.4 59.4h4.2v4.2h-4.2zM344.3 59.8h4.2v4.2h-4.2zM345.2 60.1h4.2v4.2h-4.2zM346 60.5h4.2v4.2h-4.2zM346.9 60.8h4.2v4.2h-4.2zM347.8 61.2h4.2v4.2h-4.2zM348.7 61.6h4.2v4.2h-4.2zM349.5 62h4.2v4.2h-4.2zM350.4 62.5h4.2v4.2h-4.2zM351.3 62.9h4.2v4.2h-4.2zM352.1 63.4h4.2v4.2h-4.2zM353 63.9h4.2v4.2h-4.2zM353.9 64.4h4.2v4.2h-4.2zM354.7 64.9h4.2v4.2h-4.2zM355.6 65.4h4.2v4.2h-4.2zM356.5 66h4.2v4.2h-4.2zM357.3 66.6h4.2v4.2h-4.2zM358.2 67.2h4.2v4.2h-4.2zM359.1 67.8h4.2v4.2h-4.2zM359.9 68.4h4.2v4.2h-4.2zM360.8 69.1h4.2v4.2h-4.2zM361.7 69.8h4.2v4.2h-4.2zM362.5 70.5h4.2v4.2h-4.2zM363.4 71.2h4.2v4.2h-4.2zM364.3 72.1h4.2v4.2h-4.2zM365.1 73h4.2v4.2h-4.2zM366 73.9h4.2v4.2h-4.2zM366.9 74.7h4.2v4.2h-4.2zM367.7 75.6h4.2v4.2h-4.2zM368.6 76.5h4.2v4.2h-4.2zM369.5 77.3h4.2v4.2h-4.2zM370.3 78.1h4.2v4.2h-4.2zM371.2 78.9h4.2v4.2h-4.2zM372.1 79.8h4.2v4.2h-4.2zM372.9 80.7h4.2v4.2h-4.2zM373.8 81.7h4.2v4.2h-4.2zM374.7 82.7h4.2v4.2h-4.2zM375.5 83.7h4.2v4.2h-4.2zM376.4 84.8h4.2v4.2h-4.2zM377.3 86h4.2v4.2h-4.2zM378.1 87.1h4.2v4.2h-4.2zM379 88.3h4.2v4.2h-4.2zM379.9 89.4h4.2v4.2h-4.2zM380.7 90.7h4.2v4.2h-4.2zM381.6 91.9h4.2v4.2h-4.2zM382.5 93.2h4.2v4.2h-4.2zM383.3 94.6h4.2v4.2h-4.2zM384.2 96h4.2v4.2h-4.2zM385.1 97.5h4.2v4.2h-4.2zM385.9 99.1h4.2v4.2h-4.2zM386.8 100.7h4.2v4.2h-4.2zM387.7 102.4h4.2v4.2h-4.2zM388.5 104.1h4.2v4.2h-4.2zM389.4 105.8h4.2v4.2h-4.2zM390.3 107.5h4.2v4.2h-4.2zM391.1 109.3h4.2v4.2h-4.2zM392 111h4.2v4.2h-4.2zM392.9 112.7h4.2v4.2h-4.2zM393.7 114.5h4.2v4.2h-4.2zM394.6 116.5h4.2v4.2h-4.2zM395.5 118.6h4.2v4.2h-4.2zM396.3 121.1h4.2v4.2h-4.2zM397.2 123.8h4.2v4.2h-4.2zM398.1 126.6h4.2v4.2h-4.2zM398.9 129.3h4.2v4.2h-4.2zM399.8 132.1h4.2v4.2h-4.2zM400.7 134.9h4.2v4.2h-4.2zM401.5 137.7h4.2v4.2h-4.2zM402.4 140.6h4.2v4.2h-4.2zM403.3 143.6h4.2v4.2h-4.2zM404.1 146.7h4.2v4.2h-4.2zM405 149.9h4.2v4.2h-4.2zM405.9 153.2h4.2v4.2h-4.2zM406.7 156.5h4.2v4.2h-4.2zM407.6 159.9h4.2v4.2h-4.2zM408.5 163.3h4.2v4.2h-4.2zM409.3 166.8h4.2v4.2h-4.2zM410.2 170.3h4.2v4.2h-4.2zM411.1 173.9h4.2v4.2h-4.2zM411.9 177.5h4.2v4.2h-4.2zM412.8 181.2h4.2v4.2h-4.2zM413.7 185h4.2v4.2h-4.2zM414.5 189.1h4.2v4.2h-4.2zM415.4 193.4h4.2v4.2h-4.2zM416.3 197.8h4.2v4.2h-4.2zM417.1 202.3h4.2v4.2h-4.2zM418 206.9h4.2v4.2h-4.2zM418.9 211.3h4.2v4.2h-4.2zM419.7 215.7h4.2v4.2h-4.2zM420.6 220.1h4.2v4.2h-4.2zM421.5 224.6h4.2v4.2h-4.2zM422.3 229.1h4.2v4.2h-4.2zM423.2 233.7h4.2v4.2h-4.2zM424.1 238.5h4.2v4.2h-4.2zM424.9 243.3h4.2v4.2h-4.2zM425.8 248.2h4.2v4.2h-4.2zM426.7 253.2h4.2v4.2h-4.2zM427.5 258.2h4.2v4.2h-4.2zM428.4 263.1h4.2v4.2h-4.2zM429.3 267.9h4.2v4.2h-4.2zM430.1 272.8h4.2v4.2h-4.2zM431 277.6h4.2v4.2h-4.2zM431.9 282.4h4.2v4.2h-4.2zM432.8 287.1h4.2v4.2h-4.2zM433.6 291.8h4.2v4.2h-4.2zM434.5 296.5h4.2v4.2h-4.2zM435.4 301.2h4.2v4.2h-4.2zM436.2 305.9h4.2v4.2h-4.2zM437.1 310.5h4.2v4.2h-4.2zM438 315.1h4.2v4.2h-4.2zM438.8 319.7h4.2v4.2h-4.2zM439.7 324.2h4.2v4.2h-4.2zM440.6 328.7h4.2v4.2h-4.2zM441.4 333.3h4.2v4.2h-4.2zM442.3 337.9h4.2v4.2h-4.2zM443.2 342.5h4.2v4.2h-4.2zM444 347h4.2v4.2h-4.2zM444.9 351.3h4.2v4.2h-4.2zM445.8 355.6h4.2v4.2h-4.2zM446.6 359.7h4.2v4.2h-4.2zM447.5 363.7h4.2v4.2h-4.2zM448.4 367.4h4.2v4.2h-4.2zM449.2 371h4.2v4.2h-4.2zM450.1 374.4h4.2v4.2h-4.2zM451 377.7h4.2v4.2h-4.2zM451.8 380.8h4.2v4.2h-4.2zM452.7 383.9h4.2v4.2h-4.2zM453.6 386.7h4.2v4.2h-4.2zM454.4 389.5h4.2v4.2h-4.2zM455.3 392.2h4.2v4.2h-4.2zM456.2 394.7h4.2v4.2h-4.2zM457 397.2h4.2v4.2h-4.2zM457.9 399.5h4.2v4.2h-4.2zM458.8 401.8h4.2v4.2h-4.2zM459.6 404h4.2v4.2h-4.2zM460.5 406.2h4.2v4.2h-4.2zM461.4 408.3h4.2v4.2h-4.2zM462.2 410.4h4.2v4.2h-4.2zM463.1 412.5h4.2v4.2h-4.2zM464 414.5h4.2v4.2h-4.2zM464.8 416.5h4.2v4.2h-4.2zM465.7 418.5h4.2v4.2h-4.2zM466.6 420.5h4.2v4.2h-4.2zM467.4 422.4h4.2v4.2h-4.2zM468.3 424.3h4.2v4.2h-4.2zM469.2 426.1h4.2v4.2h-4.2zM470 427.8h4.2v4.2h-4.2zM470.9 429.3h4.2v4.2h-4.2zM471.8 430.7h4.2v4.2h-4.2zM472.6 432h4.2v4.2h-4.2zM473.5 433.2h4.2v4.2h-4.2zM474.4 434.4h4.2v4.2h-4.2zM475.2 435.5h4.2v4.2h-4.2zM476.1 436.7h4.2v4.2h-4.2zM477 437.7h4.2v4.2h-4.2zM477.8 438.7h4.2v4.2h-4.2zM478.7 439.6h4.2v4.2h-4.2zM479.6 440.6h4.2v4.2h-4.2zM480.4 441.4h4.2v4.2h-4.2zM481.3 442.3h4.2v4.2h-4.2zM482.2 443.1h4.2v4.2h-4.2zM483 443.9h4.2v4.2h-4.2zM483.9 444.6h4.2v4.2h-4.2zM484.8 445.3h4.2v4.2h-4.2zM485.6 446h4.2v4.2h-4.2zM486.5 446.6h4.2v4.2h-4.2zM487.4 447.2h4.2v4.2h-4.2zM488.2 447.8h4.2v4.2h-4.2zM489.1 448.4h4.2v4.2h-4.2zM490 448.9h4.2v4.2h-4.2zM490.8 449.4h4.2v4.2h-4.2zM491.7 449.8h4.2v4.2h-4.2zM492.6 450.3h4.2v4.2h-4.2zM493.4 450.7h4.2v4.2h-4.2zM494.3 451.2h4.2v4.2h-4.2zM495.2 451.6h4.2v4.2h-4.2zM496 452h4.2v4.2h-4.2zM496.9 452.3h4.2v4.2h-4.2zM497.8 452.6h4.2v4.2h-4.2zM498.6 452.9h4.2v4.2h-4.2zM499.5 453.2h4.2v4.2h-4.2zM500.4 453.5h4.2v4.2h-4.2zM501.2 453.8h4.2v4.2h-4.2zM502.1 454h4.2v4.2h-4.2zM503 454.3h4.2v4.2h-4.2zM503.8 454.5h4.2v4.2h-4.2zM504.7 454.7h4.2v4.2h-4.2zM505.6 454.9h4.2v4.2h-4.2zM506.4 455.1h4.2v4.2h-4.2zM507.3 455.3h4.2v4.2h-4.2zM508.2 455.4h4.2v4.2h-4.2zM509 455.6h4.2v4.2h-4.2zM509.9 455.7h4.2v4.2h-4.2zM510.8 455.8h4.2v4.2h-4.2zM511.6 456h4.2v4.2h-4.2zM512.5 456.1h4.2v4.2h-4.2zM513.4 456.2h4.2v4.2h-4.2zM514.2 456.3h4.2v4.2h-4.2zM515.1 456.4h4.2v4.2h-4.2zM516 456.5h4.2v4.2h-4.2zM516.8 456.6h4.2v4.2h-4.2zM517.7 456.6h4.2v4.2h-4.2zM518.6 456.7h4.2v4.2h-4.2zM519.4 456.7h4.2v4.2h-4.2zM520.3 456.8h4.2v4.2h-4.2zM521.2 456.8h4.2v4.2h-4.2zM522.1 456.9h4.2v4.2h-4.2zM522.9 456.9h4.2v4.2h-4.2zM523.8 457h4.2v4.2h-4.2zM524.7 457h4.2v4.2h-4.2zM525.5 457h4.2v4.2h-4.2zM526.4 457.1h4.2v4.2h-4.2zM527.3 457.1h4.2v4.2h-4.2zM528.1 457.1h4.2v4.2h-4.2zM529 457.1h4.2v4.2h-4.2zM529.9 457.1h4.2v4.2h-4.2zM530.7 457.1h4.2v4.2h-4.2zM531.6 457.2h4.2v4.2h-4.2zM532.5 457.2h4.2v4.2h-4.2zM533.3 457.2h4.2v4.2h-4.2zM534.2 457.2h4.2v4.2h-4.2zM535.1 457.2h4.2v4.2h-4.2zM535.9 457.2h4.2v4.2h-4.2zM536.8 457.2h4.2v4.2h-4.2zM537.7 457.2h4.2v4.2h-4.2zM538.5 457.3h4.2v4.2h-4.2zM539.4 457.3h4.2v4.2h-4.2zM540.3 457.3h4.2v4.2h-4.2zM541.1 457.3h4.2v4.2h-4.2zM542 457.3h4.2v4.2h-4.2zM542.9 457.3h4.2v4.2h-4.2zM543.7 457.3h4.2v4.2h-4.2zM544.6 457.3h4.2v4.2h-4.2zM545.5 457.3h4.2v4.2h-4.2zM546.3 457.3h4.2v4.2h-4.2zM547.2 457.3h4.2v4.2h-4.2zM548.1 457.3h4.2v4.2h-4.2zM548.9 457.3h4.2v4.2h-4.2zM549.8 457.3h4.2v4.2h-4.2zM550.7 457.3h4.2v4.2h-4.2zM551.5 457.3h4.2v4.2h-4.2zM552.4 457.3h4.2v4.2h-4.2zM553.3 457.3h4.2v4.2h-4.2zM554.1 457.3h4.2v4.2h-4.2zM555 457.3h4.2v4.2h-4.2zM555.9 457.3h4.2v4.2h-4.2zM556.7 457.3h4.2v4.2h-4.2zM557.6 457.3h4.2v4.2h-4.2zM558.5 457.3h4.2v4.2h-4.2zM559.3 457.3h4.2v4.2h-4.2zM560.2 457.3h4.2v4.2h-4.2zM561.1 457.3h4.2v4.2h-4.2zM561.9 457.3h4.2v4.2h-4.2zM562.8 457.3h4.2v4.2h-4.2zM563.7 457.3h4.2v4.2h-4.2zM564.5 457.3h4.2v4.2h-4.2zM565.4 457.3h4.2v4.2h-4.2zM566.3 457.3h4.2v4.2h-4.2zM567.1 457.3h4.2v4.2h-4.2zM568 457.3h4.2v4.2h-4.2zM568.9 457.3h4.2v4.2h-4.2zM569.7 457.3h4.2v4.2h-4.2zM570.6 457.3h4.2v4.2h-4.2zM571.5 457.3h4.2v4.2h-4.2zM572.3 457.3h4.2v4.2h-4.2zM573.2 457.3h4.2v4.2h-4.2zM574.1 457.3h4.2v4.2h-4.2zM574.9 457.3h4.2v4.2h-4.2zM575.8 457.3h4.2v4.2h-4.2zM576.7 457.3h4.2v4.2h-4.2zM577.5 457.3h4.2v4.2h-4.2zM578.4 457.3h4.2v4.2h-4.2zM579.3 457.3h4.2v4.2h-4.2zM580.1 457.3h4.2v4.2h-4.2zM581 457.3h4.2v4.2h-4.2zM581.9 457.3h4.2v4.2h-4.2zM582.7 457.3h4.2v4.2h-4.2zM583.6 457.3h4.2v4.2h-4.2zM584.5 457.3h4.2v4.2h-4.2zM585.3 457.3h4.2v4.2h-4.2zM586.2 457.3h4.2v4.2h-4.2zM587.1 457.3h4.2v4.2h-4.2zM587.9 457.3h4.2v4.2h-4.2zM588.8 457.3h4.2v4.2h-4.2zM589.7 457.3h4.2v4.2h-4.2zM590.5 457.3h4.2v4.2h-4.2zM591.4 457.3h4.2v4.2h-4.2zM592.3 457.3h4.2v4.2h-4.2zM593.1 457.3h4.2v4.2h-4.2zM594 457.3h4.2v4.2h-4.2zM594.9 457.3h4.2v4.2h-4.2zM595.7 457.3h4.2v4.2h-4.2zM596.6 457.3h4.2v4.2h-4.2zM597.5 457.3h4.2v4.2h-4.2zM598.3 457.3h4.2v4.2h-4.2zM599.2 457.3h4.2v4.2h-4.2zM600.1 457.3h4.2v4.2h-4.2zM600.9 457.3h4.2v4.2h-4.2zM601.8 457.3h4.2v4.2h-4.2zM602.7 457.3h4.2v4.2h-4.2zM603.5 457.3h4.2v4.2h-4.2zM604.4 457.3h4.2v4.2h-4.2zM605.3 457.3h4.2v4.2h-4.2zM606.1 457.3h4.2v4.2h-4.2zM607 457.3h4.2v4.2h-4.2zM607.9 457.3h4.2v4.2h-4.2zM608.8 457.3h4.2v4.2h-4.2zM609.6 457.3h4.2v4.2h-4.2zM610.5 457.3h4.2v4.2h-4.2zM611.4 457.3h4.2v4.2h-4.2zM612.2 457.3h4.2v4.2h-4.2zM613.1 457.3h4.2v4.2h-4.2zM614 457.3h4.2v4.2h-4.2zM614.8 457.3h4.2v4.2h-4.2zM615.7 457.3h4.2v4.2h-4.2zM616.6 457.3h4.2v4.2h-4.2zM617.4 457.3h4.2v4.2h-4.2zM618.3 457.3h4.2v4.2h-4.2zM619.2 457.3h4.2v4.2h-4.2zM620 457.3h4.2v4.2h-4.2zM620.9 457.3h4.2v4.2h-4.2zM621.8 457.3h4.2v4.2h-4.2zM622.6 457.3h4.2v4.2h-4.2zM623.5 457.3h4.2v4.2h-4.2zM624.4 457.3h4.2v4.2h-4.2zM625.2 457.3h4.2v4.2h-4.2zM626.1 457.3h4.2v4.2h-4.2zM627 457.3h4.2v4.2h-4.2zM627.8 457.3h4.2v4.2h-4.2zM628.7 457.3h4.2v4.2h-4.2zM629.6 457.3h4.2v4.2h-4.2zM630.4 457.3h4.2v4.2h-4.2zM631.3 457.3h4.2v4.2h-4.2zM632.2 457.3h4.2v4.2h-4.2zM633 457.3h4.2v4.2h-4.2zM633.9 457.3h4.2v4.2h-4.2zM634.8 457.3h4.2v4.2h-4.2zM635.6 457.3h4.2v4.2h-4.2zM636.5 457.3h4.2v4.2h-4.2zM637.4 457.3h4.2v4.2h-4.2zM638.2 457.3h4.2v4.2h-4.2zM639.1 457.3h4.2v4.2h-4.2zM640 457.3h4.2v4.2h-4.2zM640.8 457.3h4.2v4.2h-4.2zM641.7 457.3h4.2v4.2h-4.2zM642.6 457.3h4.2v4.2h-4.2zM643.4 457.3h4.2v4.2h-4.2zM644.3 457.3h4.2v4.2h-4.2zM645.2 457.3h4.2v4.2h-4.2zM646 457.3h4.2v4.2h-4.2zM646.9 457.3h4.2v4.2h-4.2zM647.8 457.3h4.2v4.2h-4.2zM648.6 457.3h4.2v4.2h-4.2zM649.5 457.3h4.2v4.2h-4.2zM650.4 457.3h4.2v4.2h-4.2zM651.2 457.3h4.2v4.2h-4.2zM652.1 457.3h4.2v4.2h-4.2zM653 457.3h4.2v4.2h-4.2zM653.8 457.3h4.2v4.2h-4.2zM654.7 457.3h4.2v4.2h-4.2zM655.6 457.3h4.2v4.2h-4.2zM656.4 457.3h4.2v4.2h-4.2zM657.3 457.3h4.2v4.2h-4.2zM658.2 457.3h4.2v4.2h-4.2zM659 457.3h4.2v4.2h-4.2zM659.9 457.3h4.2v4.2h-4.2zM660.8 457.3h4.2v4.2h-4.2zM661.6 457.3h4.2v4.2h-4.2zM662.5 457.3h4.2v4.2h-4.2zM663.4 457.3h4.2v4.2h-4.2zM664.2 457.3h4.2v4.2h-4.2zM665.1 457.3h4.2v4.2h-4.2zM666 457.3h4.2v4.2h-4.2zM666.8 457.3h4.2v4.2h-4.2zM667.7 457.3h4.2v4.2h-4.2zM668.6 457.3h4.2v4.2h-4.2zM669.4 457.3h4.2v4.2h-4.2zM670.3 457.3h4.2v4.2h-4.2zM671.2 457.3h4.2v4.2h-4.2zM672 457.3h4.2v4.2h-4.2zM672.9 457.3h4.2v4.2h-4.2zM673.8 457.3h4.2v4.2h-4.2zM674.6 457.3h4.2v4.2h-4.2zM675.5 457.3h4.2v4.2h-4.2zM676.4 457.3h4.2v4.2h-4.2zM677.2 457.3h4.2v4.2h-4.2zM678.1 457.3h4.2v4.2h-4.2zM679 457.3h4.2v4.2h-4.2zM679.8 457.3h4.2v4.2h-4.2zM680.7 457.3h4.2v4.2h-4.2zM681.6 457.3h4.2v4.2h-4.2zM682.4 457.3h4.2v4.2h-4.2zM683.3 457.3h4.2v4.2h-4.2zM684.2 457.3h4.2v4.2h-4.2zM685 457.3h4.2v4.2h-4.2zM685.9 457.3h4.2v4.2h-4.2zM686.8 457.3h4.2v4.2h-4.2zM687.6 457.3h4.2v4.2h-4.2zM688.5 457.3h4.2v4.2h-4.2zM689.4 457.3h4.2v4.2h-4.2zM690.2 457.3h4.2v4.2h-4.2zM691.1 457.3h4.2v4.2h-4.2zM692 457.3h4.2v4.2h-4.2zM692.9 457.3h4.2v4.2h-4.2zM693.7 457.3h4.2v4.2h-4.2zM694.6 457.3h4.2v4.2h-4.2zM695.5 457.3h4.2v4.2h-4.2zM696.3 457.3h4.2v4.2h-4.2zM697.2 457.3h4.2v4.2h-4.2zM698.1 457.3h4.2v4.2h-4.2zM698.9 457.3h4.2v4.2h-4.2zM699.8 457.3h4.2v4.2h-4.2zM700.7 457.3h4.2v4.2h-4.2zM701.5 457.3h4.2v4.2h-4.2zM702.4 457.3h4.2v4.2h-4.2zM703.3 457.3h4.2v4.2h-4.2zM704.1 457.3h4.2v4.2h-4.2zM705 457.3h4.2v4.2h-4.2zM705.9 457.3h4.2v4.2h-4.2zM706.7 457.3h4.2v4.2h-4.2zM707.6 457.3h4.2v4.2h-4.2zM708.5 457.3h4.2v4.2h-4.2zM709.3 457.3h4.2v4.2h-4.2zM710.2 457.3h4.2v4.2h-4.2zM711.1 457.3h4.2v4.2h-4.2zM711.9 457.3h4.2v4.2h-4.2zM712.8 457.3h4.2v4.2h-4.2zM713.7 457.3h4.2v4.2h-4.2zM714.5 457.3h4.2v4.2h-4.2zM715.4 457.3h4.2v4.2h-4.2zM716.3 457.3h4.2v4.2h-4.2zM717.1 457.3h4.2v4.2h-4.2zM718 457.3h4.2v4.2h-4.2zM667.2 170.3h4.2v4.2h-4.2z"/>
<path fill="none" stroke="#000" stroke-width="1.05" d="M288.8 459.4v-6M288.8 26.2v6M433.3 459.4v-6M433.3 26.2v6M577.9 459.4v-6M577.9 26.2v6M144.3 397.5h6M722.4 397.5h-6M144.3 335.6h6M722.4 335.6h-6M144.3 273.7h6M722.4 273.7h-6M144.3 211.9h6M722.4 211.9h-6M144.3 150h6M722.4 150h-6M144.3 88.1h6M722.4 88.1h-6"/>
<rect x="144.3" y="26.2" width="578.1" height="433.2" fill="none" stroke="#000" stroke-width="1.15"/>
<path fill="none" stroke="#000" stroke-width="1.15" d="M570.9 44.6h19.6M570.9 50.2h19.6M570.9 75.7h19.6M570.9 81.3h19.6M570.9 106.7h19.6M570.9 112.3h19.6M570.9 137.8h19.6M570.9 143.4h19.6M570.9 168.8h19.6M570.9 174.4h19.6"/>
<path fill="none" stroke="#000" stroke-width="1.1" d="M415.4 512.5h18.2M346.3 527.4L357.4 498.2"/>
<path fill="none" stroke="#000" stroke-width=".9" d="M504.5 515.3L512.7 494.8"/>
<g opacity=".999">
<text x="131.9" y="466.3" text-anchor="end">0</text>
<text x="131.9" y="404.4" text-anchor="end">0.05</text>
<text x="131.9" y="342.5" text-anchor="end">0.1</text>
<text x="131.9" y="280.6" text-anchor="end">0.15</text>
<text x="131.9" y="218.8" text-anchor="end">0.2</text>
<text x="131.9" y="156.9" text-anchor="end">0.25</text>
<text x="131.9" y="95" text-anchor="end">0.3</text>
<text x="131.9" y="33.1" text-anchor="end">0.35</text>
<text x="144.3" y="486.4" text-anchor="middle">-10</text>
<text x="288.8" y="486.4" text-anchor="middle">-5</text>
<text x="431" y="486.4">0</text>
<text x="575.5" y="486.4">5</text>
<text x="712.8" y="486.4">10</text>
<text transform="translate(543.0 53.9) scale(1.12 1)" class="i">L</text>
<text x="629.0" y="53.9" text-anchor="end">20</text>
<text transform="translate(543.0 85) scale(1.12 1)" class="i">L</text>
<text x="629.0" y="85" text-anchor="end">16</text>
<text transform="translate(543.0 116) scale(1.12 1)" class="i">L</text>
<text x="629.0" y="116" text-anchor="end">14</text>
<text transform="translate(543.0 147.1) scale(1.12 1)" class="i">L</text>
<text x="629.0" y="147.1" text-anchor="end">12</text>
<text transform="translate(543.0 178.1) scale(1.12 1)" class="i">L</text>
<text x="629.0" y="178.1" text-anchor="end">10</text>
<text transform="translate(318.2 520.3) scale(.85 1)" style="font-size:34.6px">(</text>
<text x="329.6" y="520.2" class="i" style="font-size:29px">κ</text>
<text x="359.4" y="520.2" class="i" style="font-size:29px">κ</text>
<text x="375.6" y="524.4" style="font-size:22.4px">per</text>
<text x="443.6" y="520.2">1</text>
<text transform="translate(458.7 520.3) scale(.85 1)" style="font-size:34.6px">)</text>
<text transform="translate(475.3 520.2) scale(1.08 1)" class="i">L</text>
<text x="492.8" y="511.2" style="font-size:19.5px">1</text>
<text x="514.6" y="511.2" class="i" style="font-size:20px">ν</text>
<text x="524.6" y="512.8" style="font-size:15.8px">per</text>
<g transform="translate(53.5 266.0) rotate(-90)"><text transform="scale(1.12 1)" x="0" y="0" class="i" style="font-size:31px">P</text><text transform="translate(17.6 4.7) scale(1.17 1)" style="font-size:20.5px">1D</text></g>
</g>
</svg>
</body></html>
